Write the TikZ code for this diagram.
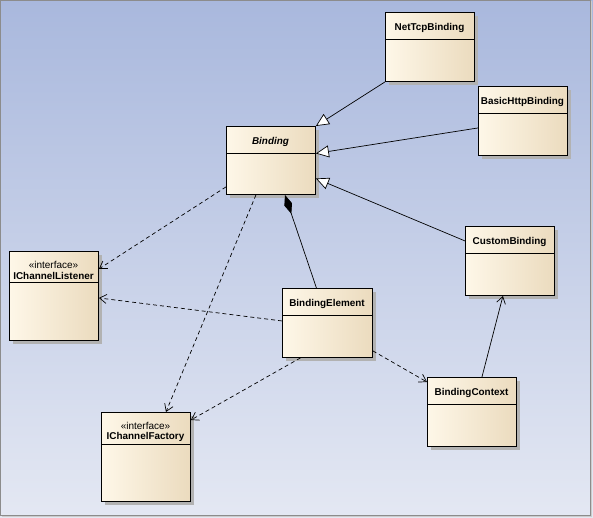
\documentclass[tikz,border=0pt]{standalone}
\usepackage{fontspec}
\setmainfont{Liberation Sans}
\usetikzlibrary{arrows.meta}
\definecolor{bgtop}{HTML}{A9B8DD}
\definecolor{bgbot}{HTML}{E4E8F3}
\definecolor{boxl}{HTML}{FEF7E8}
\definecolor{boxr}{HTML}{EBDBBE}
\tikzset{
  classbox/.style={draw=black, line width=0.9pt, left color=boxl, right color=boxr, inner sep=0pt, anchor=north west},
  shadowbox/.style={fill=black!30, draw=none},
  classname/.style={font=\fontsize{9.9}{11}\selectfont\bfseries, inner sep=0pt},
  stereo/.style={font=\fontsize{10}{11}\selectfont, inner sep=0pt},
  gen/.style={draw=black, line width=0.7pt, -{Triangle[length=13pt,width=12pt,fill=white]}},
  dep/.style={draw=black, line width=0.7pt, dashed, dash pattern=on 4pt off 3pt, -{Straight Barb[length=7pt,width=9pt]}},
  comp/.style={draw=black, line width=0.7pt, {Diamond[length=20pt,width=8pt,fill=black]}-},
  assoc/.style={draw=black, line width=0.7pt, -{Straight Barb[length=7pt,width=9pt]}},
}
\newcommand{\umlclass}[7]{% name, x, y, w, h, title height, title
  \fill[shadowbox] (#2+4,#3+4) rectangle ++(#4,#5);
  \node[classbox, minimum width=#4pt, minimum height=#5pt] (#1) at (#2,#3) {};
  \draw[line width=0.9pt] (#2,#3+#6) -- ++(#4,0);
  \node[classname] (#1-t) at (#2+#4/2,#3+#6/2+2) {#7};
}
\newcommand{\umliface}[7]{% name, x, y, w, h, title height, title
  \fill[shadowbox] (#2+4,#3+4) rectangle ++(#4,#5);
  \node[classbox, minimum width=#4pt, minimum height=#5pt] (#1) at (#2,#3) {};
  \draw[line width=0.9pt] (#2,#3+#6) -- ++(#4,0);
  \node[stereo] (#1-s) at (#2+#4/2,#3+#6/2-2) {«interface»};
  \node[classname] (#1-t) at (#2+#4/2,#3+#6/2+9) {#7};
}
\begin{document}
\begin{tikzpicture}[x=1pt,y=-1pt]
\useasboundingbox (0,0) rectangle (593,518);
\shade[top color=bgtop, bottom color=bgbot] (0,0) rectangle (593,518);
\draw[black!45, line width=0.8pt] (0.5,0.5) rectangle (590,515);
\draw[white!80!black, line width=1.5pt] (1.5,516.5) -- (591.5,516.5) -- (591.5,1.5);

\umlclass{ntb}{385}{12}{89}{69}{27}{NetTcpBinding}
\umlclass{bhb}{478}{86}{89}{69}{27}{BasicHttpBinding}
\umlclass{bind}{226}{126}{89}{68}{27}{\itshape Binding}
\umlclass{cb}{465}{226}{89}{69}{27}{CustomBinding}
\umliface{icl}{9}{251}{89}{89}{31}{IChannelListener}
\umlclass{be}{282}{288}{90}{69}{27}{BindingElement}
\umlclass{bc}{427}{377}{89}{69}{27}{BindingContext}
\umliface{icf}{101}{412}{89}{89}{32}{IChannelFactory}

\draw[gen] (ntb.south west) -- (bind.north east);
\draw[gen] ([yshift=-7pt]bhb.west) -- ([yshift=7pt]bind.east);
\draw[gen] ([yshift=20pt]cb.west) -- ([yshift=-18pt]bind.east);
\draw[comp] ([xshift=14pt]bind.south) -- ([xshift=-11pt]be.north);
\draw[dep] ([yshift=8pt]bind.south west) -- ([yshift=27pt]icl.east);
\draw[dep] ([xshift=-15pt]bind.south) -- ([xshift=20pt]icf.north);
\draw[dep] ([yshift=2pt]be.west) -- ([yshift=-2pt]icl.east);
\draw[dep] ([xshift=-27pt]be.south) -- ([yshift=-8pt]icf.north east);
\draw[dep] ([yshift=7pt]be.south east) -- ([yshift=-5pt]bc.north west);
\draw[assoc] ([xshift=10pt]bc.north) -- ([xshift=-7pt]cb.south);
\end{tikzpicture}
\end{document}
